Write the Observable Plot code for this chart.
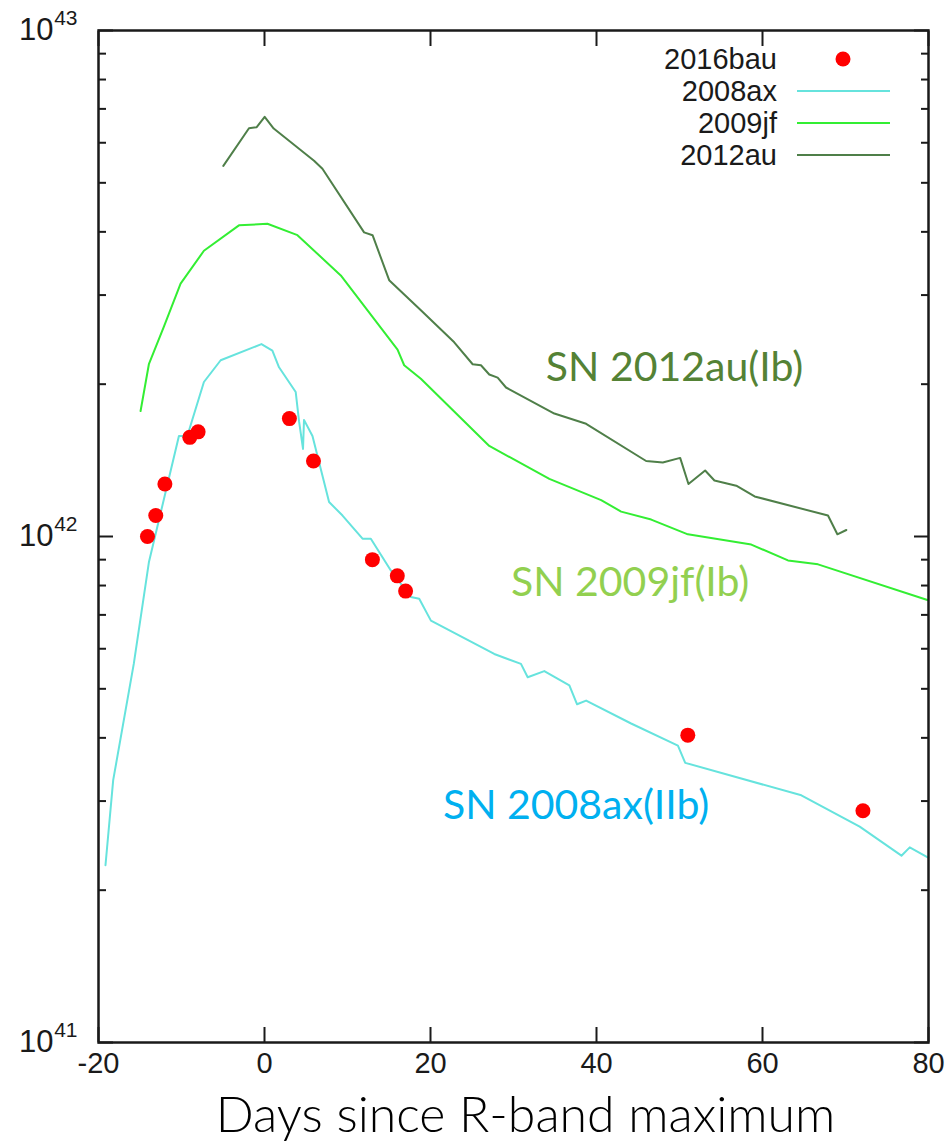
<!DOCTYPE html>
<html>
<head>
<meta charset="utf-8">
<script src="https://cdn.jsdelivr.net/npm/d3@7"></script>
<script src="https://cdn.jsdelivr.net/npm/@observablehq/plot@0.6"></script>
<style>
  html, body { margin: 0; padding: 0; background: #fff; }
  #wrap { position: relative; width: 952px; height: 1146px; }
  #legend { position: absolute; left: 560px; top: 43px; font-family: "Liberation Sans", Arial, sans-serif; font-size: 29px; color: #1a1a1a; }
  #legend .row { display: flex; align-items: center; height: 32px; }
  #legend .name { width: 217px; text-align: right; padding-right: 20px; }
  #legend svg { display: block; }
</style>
</head>
<body>
<div id="wrap"></div>
<script>
// ---- data ----
const xTickValues = [-20, 0, 20, 40, 60, 80];
const yMajorTicks = [1e41, 1e42, 1e43];
const yMinorTicks = [2e41, 3e41, 4e41, 5e41, 6e41, 7e41, 8e41, 9e41, 2e42, 3e42, 4e42, 5e42, 6e42, 7e42, 8e42, 9e42];

const sn2016bauDays = [-14.1, -13.1, -12.0, -9.0, -8.0, 3.0, 5.9, 13.0, 16.0, 17.0, 51.0, 72.1];
const sn2016bauLum  = [1.00e42, 1.10e42, 1.27e42, 1.57e42, 1.61e42, 1.71e42, 1.41e42, 9.0e41, 8.36e41, 7.8e41, 4.05e41, 2.87e41];

const sn2008axDays = [-19.16, -18.23, -15.75, -13.93, -10.31, -9.30, -7.30, -5.28, -0.37, 0.95, 1.75, 3.76, 4.16, 4.64, 4.76, 5.78, 7.78, 9.40, 11.81, 12.81, 15.22, 17.64, 18.64, 20.05, 27.68, 30.90, 31.71, 33.71, 36.73, 37.66, 38.75, 44.17, 49.81, 50.69, 64.68, 71.71, 76.74, 77.74, 79.96];
const sn2008axLum  = [2.24e41, 3.30e41, 5.60e41, 8.89e41, 1.58e42, 1.58e42, 2.02e42, 2.23e42, 2.40e42, 2.33e42, 2.16e42, 1.93e42, 1.69e42, 1.49e42, 1.70e42, 1.58e42, 1.17e42, 1.10e42, 9.9e41, 9.9e41, 8.57e41, 7.59e41, 7.53e41, 6.82e41, 5.86e41, 5.60e41, 5.27e41, 5.42e41, 5.08e41, 4.66e41, 4.74e41, 4.27e41, 3.86e41, 3.57e41, 3.08e41, 2.67e41, 2.34e41, 2.43e41, 2.32e41];

const sn2009jfDays = [-14.93, -13.93, -12.12, -10.11, -7.30, -3.08, 0.35, 3.97, 9.19, 16.03, 16.83, 18.84, 27.08, 34.32, 40.56, 42.97, 46.59, 51.01, 58.65, 63.07, 66.69, 79.96];
const sn2009jfLum  = [1.77e42, 2.19e42, 2.60e42, 3.16e42, 3.67e42, 4.12e42, 4.15e42, 3.94e42, 3.28e42, 2.34e42, 2.18e42, 2.05e42, 1.51e42, 1.30e42, 1.18e42, 1.12e42, 1.08e42, 1.01e42, 9.64e41, 8.97e41, 8.81e41, 7.48e41];

const sn2012auDays = [-4.96, -1.87, -0.94, 0.02, 1.11, 5.97, 6.98, 12.00, 13.02, 15.02, 18.84, 22.86, 25.08, 26.08, 27.08, 28.09, 29.10, 34.92, 38.75, 45.98, 47.99, 50.08, 51.08, 53.09, 54.21, 56.84, 59.05, 67.89, 69.02, 70.10];
const sn2012auLum  = [5.40e42, 6.41e42, 6.44e42, 6.75e42, 6.40e42, 5.53e42, 5.33e42, 3.99e42, 3.94e42, 3.21e42, 2.80e42, 2.42e42, 2.19e42, 2.18e42, 2.09e42, 2.06e42, 1.97e42, 1.75e42, 1.67e42, 1.41e42, 1.40e42, 1.43e42, 1.27e42, 1.35e42, 1.29e42, 1.26e42, 1.20e42, 1.10e42, 1.01e42, 1.03e42];

const legendNames = ["2016bau", "2008ax", "2009jf", "2012au"];
const legendKinds = ["dot", "line", "line", "line"];
const legendColors = ["#ff0000", "#66e3dd", "#33ee33", "#4f7f49"];

const annotationText = ["SN 2012au(Ib)", "SN 2009jf(Ib)", "SN 2008ax(IIb)"];
const annotationDay = [33.9, 29.7, 21.5];
const annotationLum = [2.15e42, 8.1e41, 2.94e41];
const annotationColor = ["#548235", "#92d050", "#00b0f0"];

const xTitle = "Days since R-band maximum";

// ---- build ----
const zip = (xs, ys) => xs.map((x, i) => ({x, y: ys[i]}));
const dots = zip(sn2016bauDays, sn2016bauLum);
const ax = zip(sn2008axDays, sn2008axLum);
const jf = zip(sn2009jfDays, sn2009jfLum);
const au = zip(sn2012auDays, sn2012auLum);
const annotations = annotationText.map((t, i) => ({t, x: annotationDay[i], y: annotationLum[i], c: annotationColor[i]}));

const tickFont = "Liberation Sans, Arial, sans-serif";
const blank = () => "";
const tickOpts = {tickFormat: blank, label: null, strokeWidth: 2, stroke: "#1a1a1a"};

const chart = Plot.plot({
  width: 952,
  height: 1146,
  marginLeft: 98,
  marginRight: 24,
  marginTop: 30,
  marginBottom: 104,
  x: {domain: [-20, 80]},
  y: {type: "log", domain: [1e41, 1e43]},
  color: {type: "identity"},
  style: {fontFamily: tickFont, background: "white", color: "#1a1a1a"},
  marks: [
    // lines
    Plot.line(ax, {x: "x", y: "y", stroke: legendColors[1], strokeWidth: 2}),
    Plot.line(jf, {x: "x", y: "y", stroke: legendColors[2], strokeWidth: 2}),
    Plot.line(au, {x: "x", y: "y", stroke: legendColors[3], strokeWidth: 2}),
    Plot.dot(dots, {x: "x", y: "y", r: 7.5, fill: legendColors[0], stroke: "none"}),
    // annotations
    Plot.text(annotations, {x: "x", y: "y", text: "t", fill: "c", textAnchor: "start", fontSize: 41, fontFamily: "Lato, sans-serif"}),
    // frame
    Plot.frame({stroke: "#1a1a1a", strokeWidth: 2.5}),
    // inward ticks (no labels)
    Plot.axisX({anchor: "bottom", ticks: xTickValues, tickSize: -15, ...tickOpts}),
    Plot.axisX({anchor: "top", ticks: xTickValues, tickSize: -15, ...tickOpts}),
    Plot.axisY({anchor: "left", ticks: yMajorTicks, tickSize: -15, ...tickOpts}),
    Plot.axisY({anchor: "right", ticks: yMajorTicks, tickSize: -15, ...tickOpts}),
    Plot.axisY({anchor: "left", ticks: yMinorTicks, tickSize: -8, ...tickOpts}),
    Plot.axisY({anchor: "right", ticks: yMinorTicks, tickSize: -8, ...tickOpts}),
    // x tick labels
    Plot.axisX({anchor: "bottom", ticks: xTickValues, tickSize: 0, tickPadding: 10, tickFormat: d => String(d), label: null, fontSize: 29, fill: "#1a1a1a"}),
    // y tick labels 10^n
    Plot.text(yMajorTicks, {y: d => d, frameAnchor: "left", text: () => "10", textAnchor: "end", dx: -45, fontSize: 31, fill: "#1a1a1a", fontFamily: tickFont}),
    Plot.text(yMajorTicks, {y: d => d, frameAnchor: "left", text: d => String(Math.round(Math.log10(d))), textAnchor: "end", dx: -21, dy: -12, fontSize: 21, fill: "#1a1a1a", fontFamily: tickFont}),
    // x title
    Plot.text([xTitle], {frameAnchor: "bottom", text: d => d, dx: 12, dy: 89, fontSize: 50, fontWeight: 300, fontFamily: "Lato, sans-serif", fill: "#000"})
  ]
});

// drop the empty label texts produced by the tick-only axes
chart.querySelectorAll("text").forEach(t => { if (t.textContent === "") t.remove(); });

const wrap = document.getElementById("wrap");
wrap.appendChild(chart);

// legend overlay
const legend = document.createElement("div");
legend.id = "legend";
legendNames.forEach((name, i) => {
  const row = document.createElement("div");
  row.className = "row";
  const label = document.createElement("div");
  label.className = "name";
  label.textContent = name;
  row.appendChild(label);
  const ns = "http://www.w3.org/2000/svg";
  const sw = document.createElementNS(ns, "svg");
  sw.setAttribute("width", 93);
  sw.setAttribute("height", 20);
  if (legendKinds[i] === "dot") {
    const c = document.createElementNS(ns, "circle");
    c.setAttribute("cx", 46); c.setAttribute("cy", 10); c.setAttribute("r", 7.5);
    c.setAttribute("fill", legendColors[i]);
    sw.appendChild(c);
  } else {
    const l = document.createElementNS(ns, "line");
    l.setAttribute("x1", 0); l.setAttribute("x2", 93); l.setAttribute("y1", 10); l.setAttribute("y2", 10);
    l.setAttribute("stroke", legendColors[i]); l.setAttribute("stroke-width", 2);
    sw.appendChild(l);
  }
  row.appendChild(sw);
  legend.appendChild(row);
});
wrap.appendChild(legend);
</script>
</body>
</html>
